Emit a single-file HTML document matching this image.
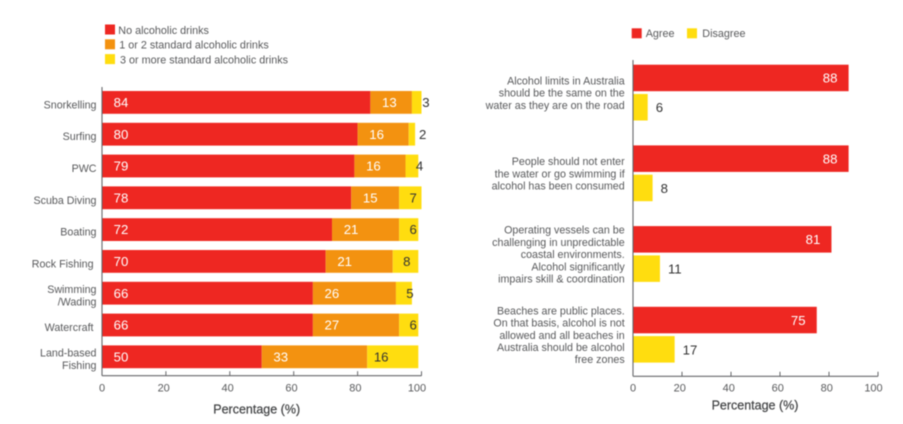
<!DOCTYPE html>
<html lang="en">
<head>
<meta charset="utf-8">
<title>Alcohol attitudes charts</title>
<style>
  html, body { margin: 0; padding: 0; background: #fff; }
  body { width: 903px; height: 424px; overflow: hidden; }
  svg { display: block; filter: blur(0.45px); font-family: "Liberation Sans", sans-serif; }
  .cat { font-size: 10.7px; fill: #58595b; }
  .tick { font-size: 11px; fill: #58595b; }
  .leg { font-size: 10.8px; fill: #58595b; }
  .title { font-size: 12.5px; fill: #3f4042; stroke: #3f4042; stroke-width: 0.2px; }
  .val { font-size: 13.2px; }
</style>
</head>
<body>
<svg id="chart" width="903" height="424" viewBox="0 0 903 424" xmlns="http://www.w3.org/2000/svg"></svg>
<script>
const activityCategories = [["Snorkelling"], ["Surfing"], ["PWC"], ["Scuba Diving"], ["Boating"], ["Rock Fishing\u00a0"], ["Swimming", "/Wading"], ["Watercraft\u00a0"], ["Land-based", "Fishing"]];
const noDrinks = [84, 80, 79, 78, 72, 70, 66, 66, 50];
const oneOrTwoDrinks = [13, 16, 16, 15, 21, 21, 26, 27, 33];
const threeOrMoreDrinks = [3, 2, 4, 7, 6, 8, 5, 6, 16];
const statementCategories = [
  ["Alcohol limits in Australia", "should be the same on the", "water as they are on the road"],
  ["People should not enter", "the water or go swimming if", "alcohol has been consumed"],
  ["Operating vessels can be", "challenging in unpredictable", "coastal environments.", "Alcohol significantly", "impairs skill & coordination"],
  ["Beaches are public places.", "On that basis, alcohol is not", "allowed and all beaches in", "Australia should be alcohol", "free zones"]
];
const agreeValues = [88, 88, 81, 75];
const disagreeValues = [6, 8, 11, 17];
const tickValues = [0, 20, 40, 60, 80, 100];
const leftLegendLabels = ["No alcoholic drinks", "1 or 2 standard alcoholic drinks", "3 or more standard alcoholic drinks"];
const rightLegendLabels = ["Agree", "Disagree"];

const RED = "#ee2722", ORANGE = "#f39210", YELLOW = "#ffdd0f", AXIS = "#66676a";
const svg = document.getElementById("chart");

function make(tag, attrs, text) {
  const el = document.createElementNS("http://www.w3.org/2000/svg", tag);
  for (const k in attrs) el.setAttribute(k, attrs[k]);
  if (text !== undefined) el.textContent = text;
  svg.appendChild(el);
  return el;
}
function slug(s) {
  return s.toLowerCase().replace(/[^a-z0-9]+/g, "-").replace(/^-|-$/g, "");
}

/* ---------- left chart ---------- */
const leftX = v => 102 + v * 3.195;
const leftBandTop = i => 91 + i * 31.8;
const LEFT_BAR_H = 22.8;

function drawSegment(start, value, colour, labelOffset, labelColour, rowName, segName, rowIndex) {
  const bar = make("rect", { x: leftX(start), y: leftBandTop(rowIndex), width: leftX(value) - leftX(0), height: LEFT_BAR_H, fill: colour });
  
  
  const label = make("text", { class: "val", x: leftX(start) + labelOffset, y: leftBandTop(rowIndex) + 16, fill: labelColour, "text-anchor": "middle" }, value);
  
  
}

activityCategories.forEach((lines, i) => {
  const rowName = slug(lines.join(" "));
  const centre = leftBandTop(i) + LEFT_BAR_H / 2 + 2;
  lines.forEach((line, j) => {
    const t = make("text", { class: "cat", x: 96.5, y: centre + 4 + (j - (lines.length - 1) / 2) * 12.2, "text-anchor": "end" }, line);
    
    
  });
  drawSegment(0, noDrinks[i], RED, 19, "#ffffff", rowName, "no-drinks", i);
  drawSegment(noDrinks[i], oneOrTwoDrinks[i], ORANGE, 19, "#ffffff", rowName, "one-or-two", i);
  drawSegment(noDrinks[i] + oneOrTwoDrinks[i], threeOrMoreDrinks[i], YELLOW, 14, "#333333", rowName, "three-or-more", i);
});

function drawAxes(x, axisY, topY, titleX, titleY, labelGap, prefix) {
  const yAxis = make("line", { x1: x(0), x2: x(0), y1: topY, y2: axisY, stroke: AXIS, "stroke-width": 1.1 });
  
  
  const xAxis = make("line", { x1: x(0), x2: x(100), y1: axisY, y2: axisY, stroke: AXIS, "stroke-width": 1.1 });
  
  
  tickValues.forEach(v => {
    if (v > 0) {
      const tick = make("line", { x1: x(v), x2: x(v), y1: axisY - 4.5, y2: axisY, stroke: AXIS, "stroke-width": 1 });
      
      
    }
    const nudge = v === 0 ? 0 : v === 100 ? -4.5 : -2.2;
    const lab = make("text", { class: "tick", x: x(v) + nudge, y: axisY + labelGap, "text-anchor": "middle" }, v);
    
    
  });
  const title = make("text", { class: "title", x: titleX, y: titleY, "text-anchor": "middle" }, "Percentage (%)");
  
  
}
drawAxes(leftX, 375.7, 87, 256.7, 413.5, 16, "left");

const leftLegendColours = [RED, ORANGE, YELLOW];
const leftLegendTextX = [118.3, 119.3, 120];
leftLegendLabels.forEach((label, i) => {
  const sw = make("rect", { x: 105, y: 24.5 + i * 14.8, width: 10, height: 10, fill: leftLegendColours[i] });
  
  
  const t = make("text", { class: "leg", x: leftLegendTextX[i], y: 33.8 + i * 14.8 }, label);
  
  
});

/* ---------- right chart ---------- */
const rightX = v => 633 + v * 2.45;
const groupTop = i => 64.7 + i * 80.7;
const RIGHT_BAR_H = 26.5;

statementCategories.forEach((lines, i) => {
  const top = groupTop(i);
  const centre = top + 28;
  lines.forEach((line, j) => {
    const t = make("text", { class: "cat", x: 624.7, y: centre + 4 + (j - (lines.length - 1) / 2) * 12.2, "text-anchor": "end" }, line);
    
    
  });
  const agree = make("rect", { x: rightX(0), y: top, width: rightX(agreeValues[i]) - rightX(0), height: RIGHT_BAR_H, fill: RED });
  
  
  const agreeLab = make("text", { class: "val", x: rightX(agreeValues[i]) - 18.5, y: top + 18, fill: "#ffffff", "text-anchor": "middle" }, agreeValues[i]);
  
  
  const disagree = make("rect", { x: rightX(0), y: top + 29.3, width: rightX(disagreeValues[i]) - rightX(0), height: RIGHT_BAR_H, fill: YELLOW });
  
  
  const disLab = make("text", { class: "val", x: rightX(disagreeValues[i]) + 8, y: top + 47.5, fill: "#333333" }, disagreeValues[i]);
  
  
});
drawAxes(rightX, 376.3, 60, 755, 409.5, 15, "right");

const rightLegendColours = [RED, YELLOW];
const rightLegendSwatchX = [631.7, 687];
const rightLegendTextX = [645.7, 702.3];
rightLegendLabels.forEach((label, i) => {
  const sw = make("rect", { x: rightLegendSwatchX[i], y: 28.3, width: 10, height: 10, fill: rightLegendColours[i] });
  
  
  const t = make("text", { class: "leg", x: rightLegendTextX[i], y: 37 }, label);
  
  
});
</script>
</body>
</html>
